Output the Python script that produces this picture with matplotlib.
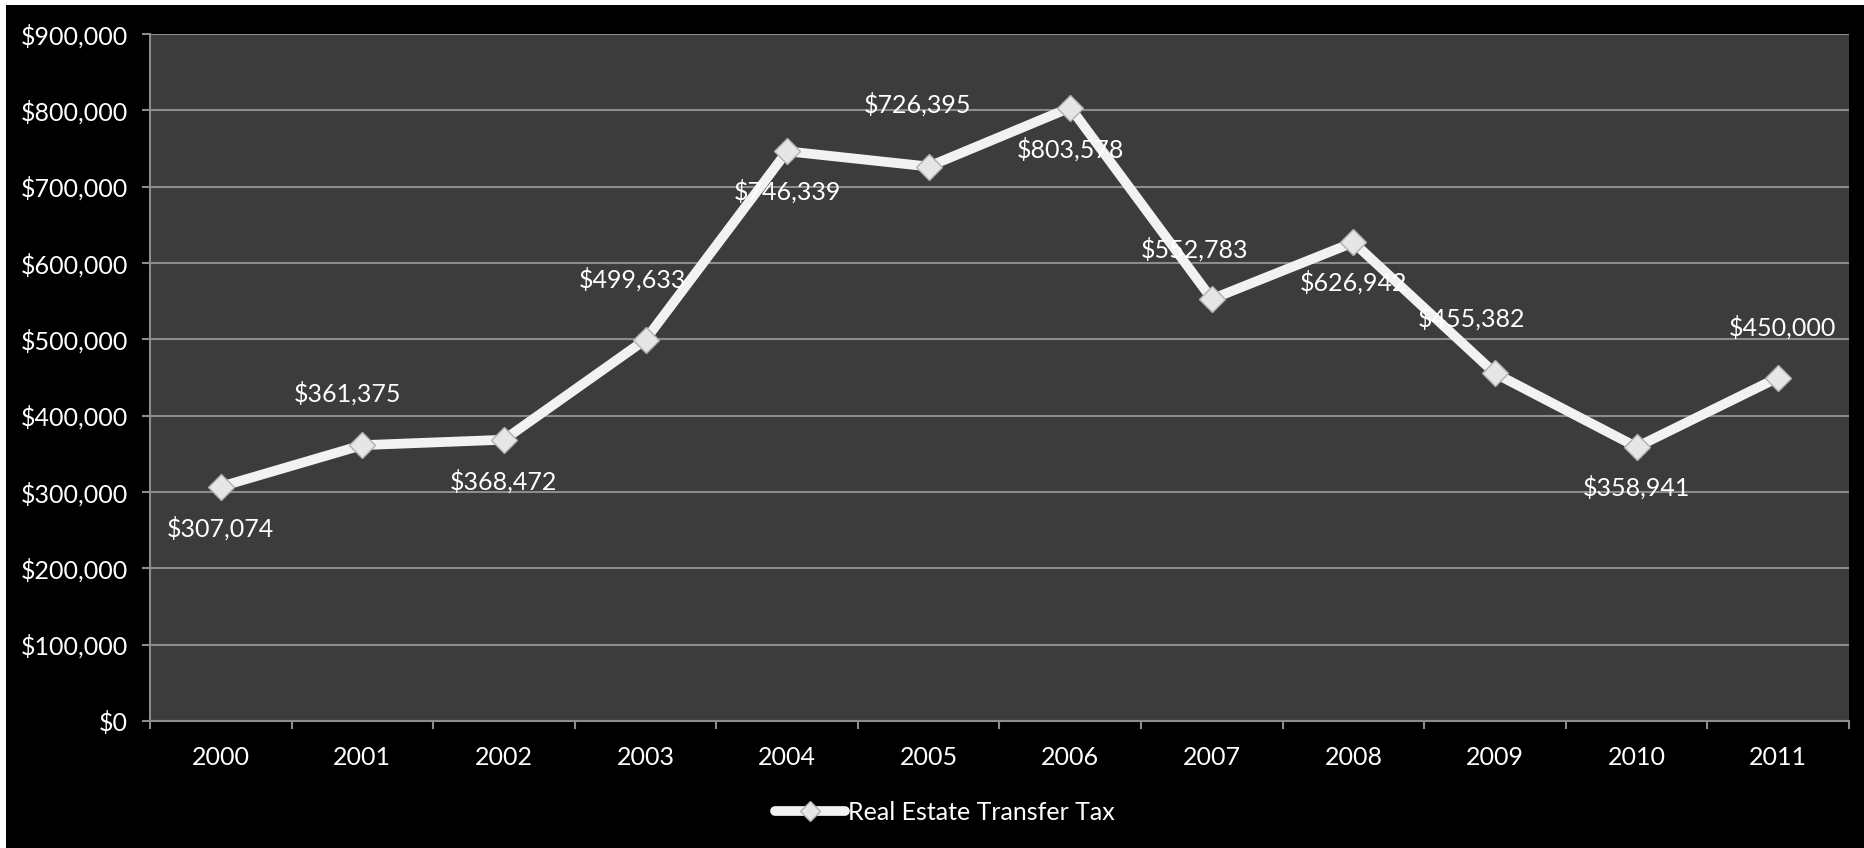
#!/usr/bin/env python3

import matplotlib
matplotlib.use("Agg")
import matplotlib.pyplot as plt
from matplotlib.patches import Rectangle
from matplotlib.ticker import FuncFormatter, MultipleLocator

years = ["2000", "2001", "2002", "2003", "2004", "2005",
         "2006", "2007", "2008", "2009", "2010", "2011"]
tax = [307074, 361375, 368472, 499633, 746339, 726395,
       803578, 552783, 626942, 455382, 358941, 450000]
series_name = "Real Estate Transfer Tax"

# label offsets in pixels (Excel puts them above or below the point)
label_off = [(0, -42), (-15, 52), (0, -42), (-13, 60), (0, -40), (-11, 62),
             (0, -42), (-17, 50), (0, -40), (-24, 55), (0, -40), (4, 50)]

plt.rcParams['font.family'] = ['Lato', 'DejaVu Sans']
FS = 18

W, H = 1864, 848
fig = plt.figure(figsize=(W / 100, H / 100), dpi=100, facecolor='black')
ax = fig.add_axes([150 / W, 1 - 721 / H, (1849 - 150) / W, (721 - 34) / H])
ax.set_facecolor('#3c3c3c')

x = list(range(len(years)))
ax.plot(x, tax, color='#f2f2f2', lw=7, marker='D', ms=13,
        mfc='#e6e6e6', mec='#b0b0b0', mew=1, solid_capstyle='round',
        label=series_name, zorder=3)

for i, v in enumerate(tax):
    ax.annotate("${:,}".format(v), (i, v), xytext=label_off[i],
                textcoords='offset pixels', ha='center', va='center',
                color='white', fontsize=FS, zorder=4)

ax.set_xlim(-0.5, len(years) - 0.5)
ax.set_ylim(0, 900000)
ax.yaxis.set_major_locator(MultipleLocator(100000))
ax.yaxis.set_major_formatter(FuncFormatter(lambda v, p: "${:,.0f}".format(v)))
ax.grid(axis='y', color='#8c8c8c', lw=1.5, zorder=1)
ax.set_axisbelow(True)

ax.set_xticks(x)
ax.set_xticklabels(years)
ax.set_xticks([i - 0.5 for i in range(len(years) + 1)], minor=True)
ax.tick_params(axis='x', which='major', length=0, pad=18, labelsize=FS,
               labelcolor='white')
ax.tick_params(axis='x', which='minor', length=6, width=1.5, color='#8c8c8c')
ax.tick_params(axis='y', length=6, width=1.5, color='#8c8c8c', pad=10,
               labelsize=FS, labelcolor='white')

for s in ['top', 'right']:
    ax.spines[s].set_visible(False)
for s in ['left', 'bottom']:
    ax.spines[s].set_color('#8c8c8c')
    ax.spines[s].set_linewidth(1.5)

leg = fig.legend(loc='center', bbox_to_anchor=(945 / W, 1 - 812 / H),
                 frameon=False, fontsize=FS, handlelength=2.8,
                 handletextpad=0.1, labelcolor='white', markerscale=0.8)

# thin white strip along top and left edges of the picture
fig.patches.append(Rectangle((0, 1 - 5 / H), 1, 5 / H, transform=fig.transFigure,
                             facecolor='white', edgecolor='none'))
fig.patches.append(Rectangle((0, 0), 6 / W, 1, transform=fig.transFigure,
                             facecolor='white', edgecolor='none'))

fig.savefig('out.png', dpi=100, facecolor='black')
